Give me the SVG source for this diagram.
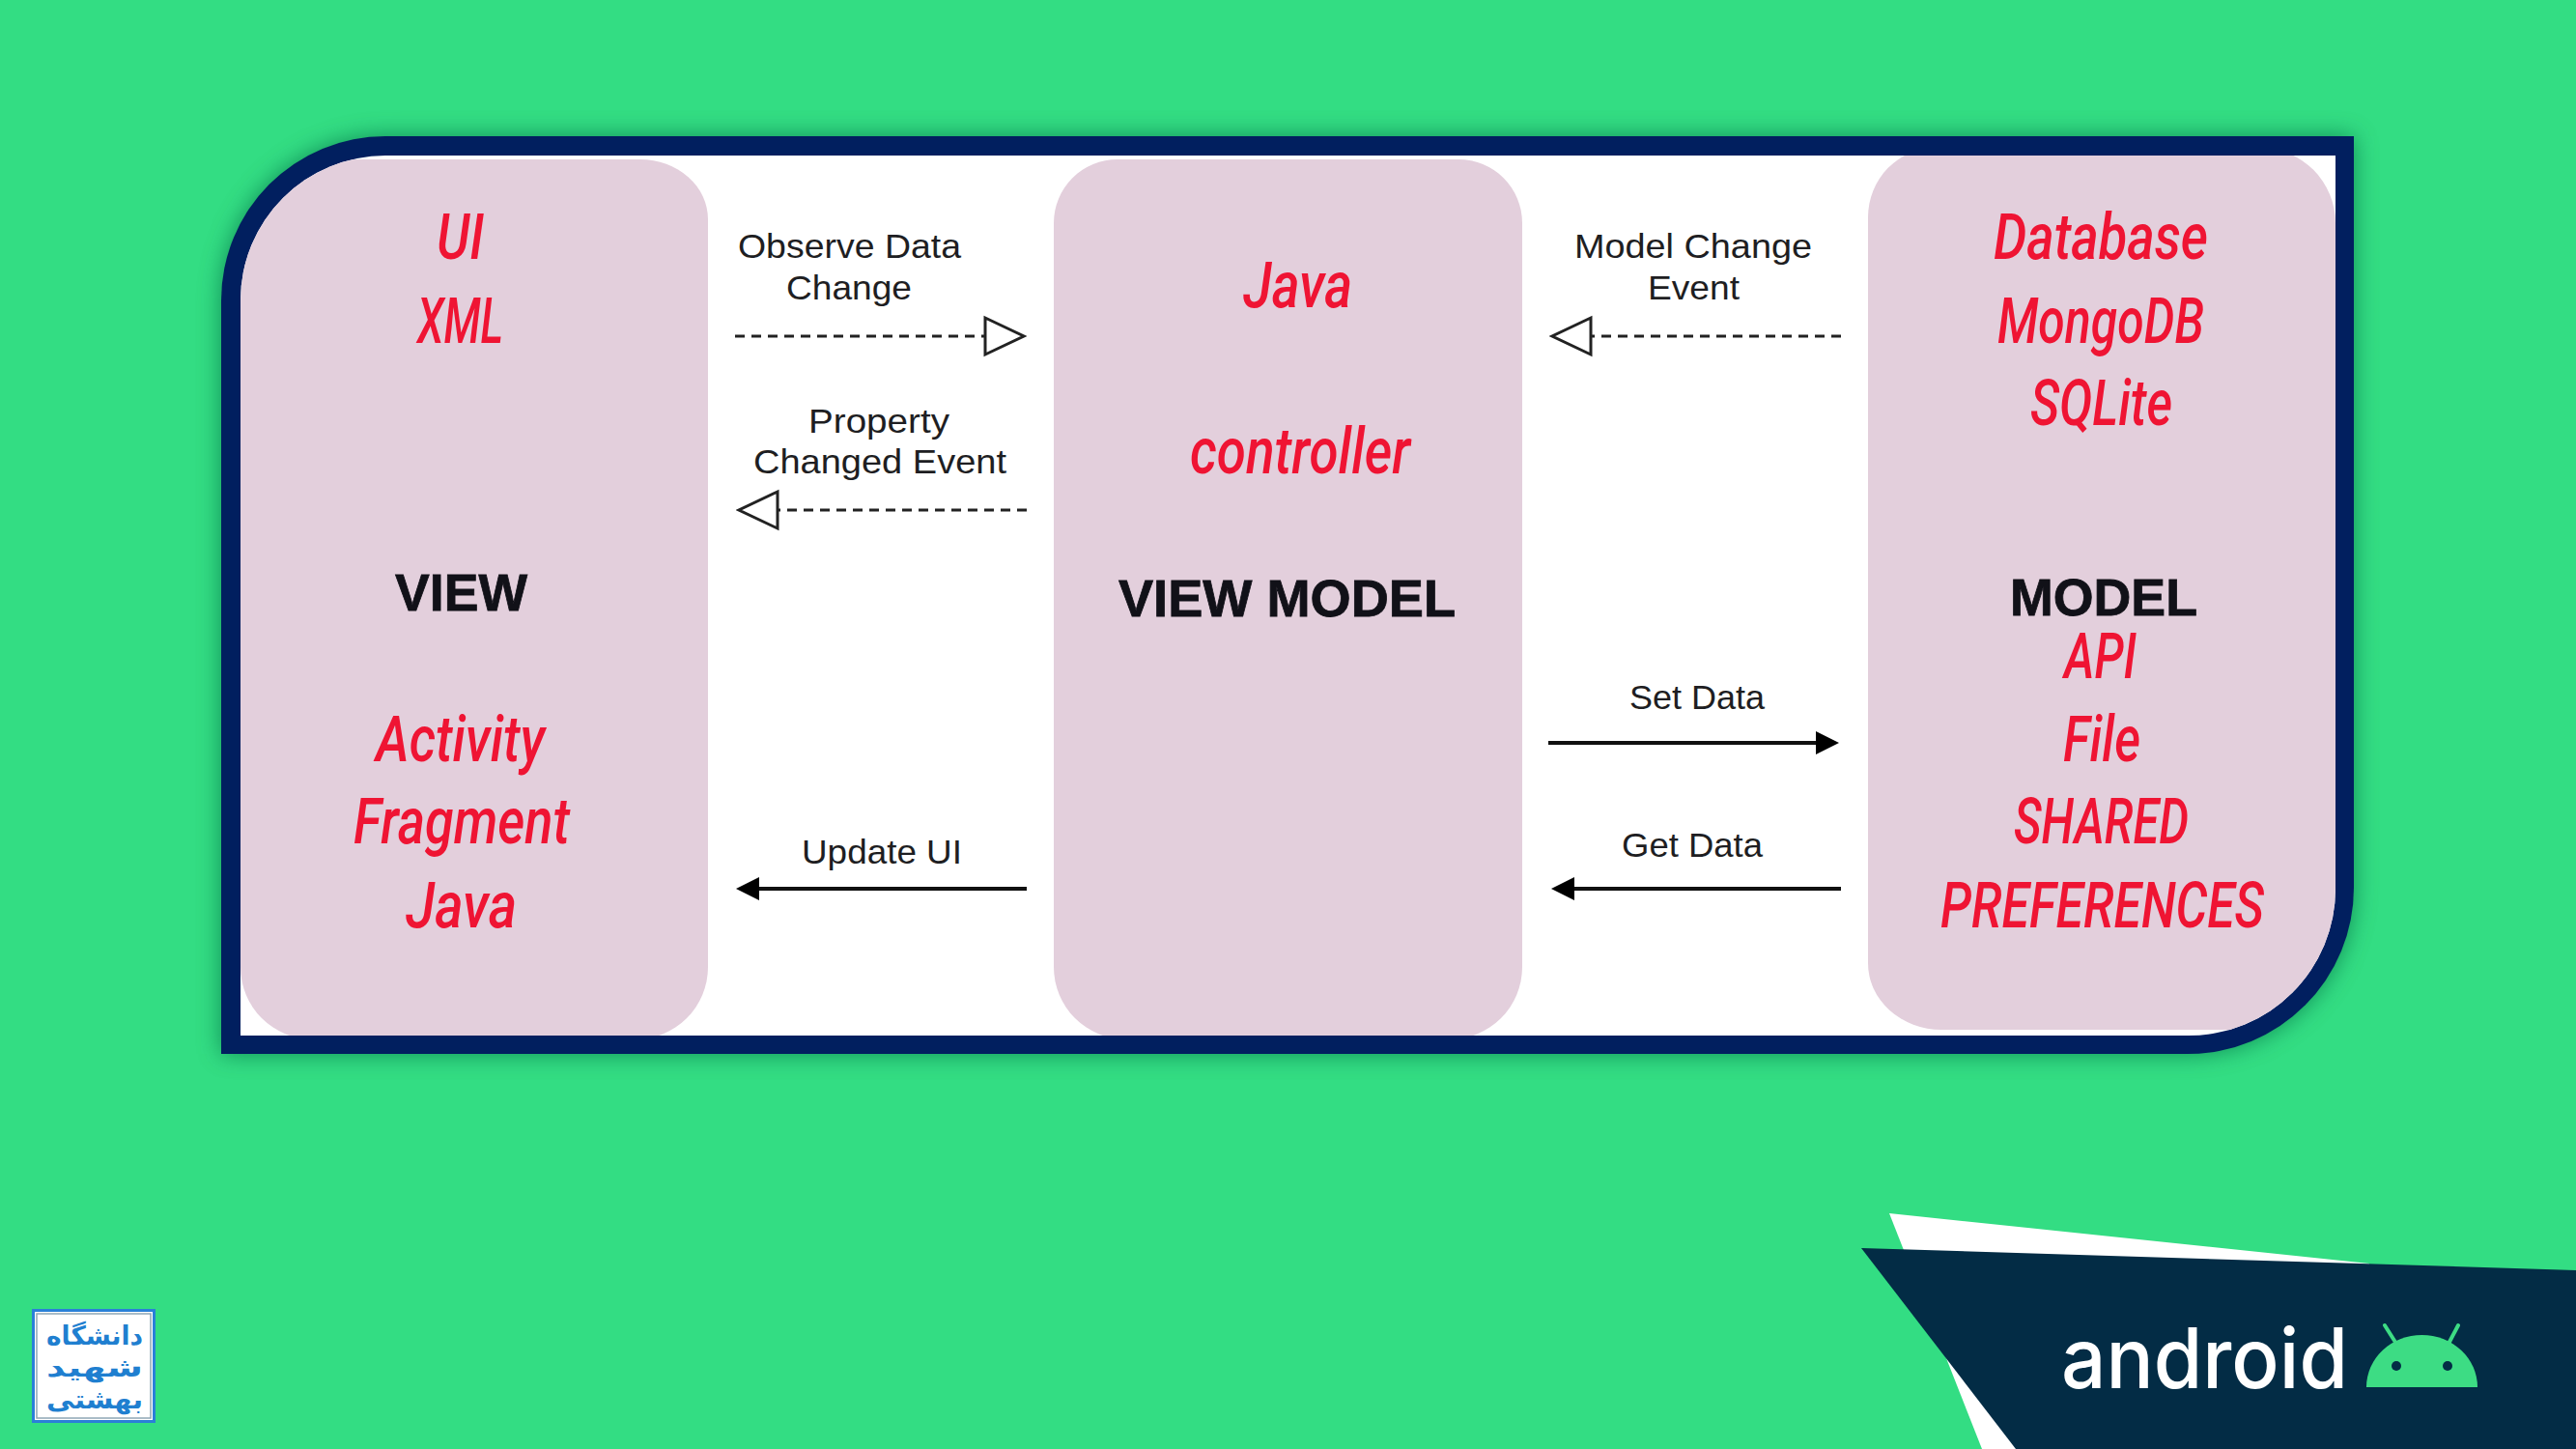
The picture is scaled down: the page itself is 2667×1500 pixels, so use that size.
<svg xmlns="http://www.w3.org/2000/svg" width="2667" height="1500" viewBox="0 0 2667 1500">
<style>
.pill{fill:#e3cfdc}
.red{font-family:"Roboto","Liberation Sans",sans-serif;font-style:italic;font-weight:500;font-size:67px;fill:#ef1433}
.head{font-family:"Liberation Sans",sans-serif;font-weight:700;font-size:54px;fill:#111118;stroke:#111118;stroke-width:.8}
.lab{font-family:"Liberation Sans",sans-serif;font-size:35px;fill:#1e1e22}
.dash{fill:none;stroke:#222;stroke-width:3;stroke-dasharray:10 7}
.solid{fill:none;stroke:#111;stroke-width:4}
</style>
<defs>
<filter id="blur" x="-10%" y="-15%" width="120%" height="130%"><feGaussianBlur stdDeviation="12"/></filter>
<clipPath id="inner"><path d="M399,161H2418V920A152,152 0 0 1 2266,1072H249V311A150,150 0 0 1 399,161Z"/></clipPath>
<marker id="open" markerUnits="userSpaceOnUse" viewBox="-3 -3 46 44" markerWidth="46" markerHeight="44" refX="0" refY="19" orient="auto"><path d="M0,0L40,19L0,38Z" fill="#fff" stroke="#222" stroke-width="3"/></marker>
<marker id="fill" markerUnits="userSpaceOnUse" viewBox="0 0 24 24" markerWidth="24" markerHeight="24" refX="0" refY="12" orient="auto"><path d="M0,0L24,12L0,24Z" fill="#000"/></marker>
</defs>
<rect width="2667" height="1500" fill="#33dd83"/>
<g id="background-shapes">
<path d="M1956,1256L2453,1308L2400,1500H2052Z" fill="#fff"/>
<path d="M1927,1292L2667,1315V1500H2087Z" fill="#032c45"/>
</g>
<g id="frame">
<path d="M399,141H2437V919A172,172 0 0 1 2265,1091H229V311A170,170 0 0 1 399,141Z" fill="#0f6b45" opacity=".7" filter="url(#blur)"/>
<path d="M399,141H2437V919A172,172 0 0 1 2265,1091H229V311A170,170 0 0 1 399,141Z" fill="#011f5f"/>
<path d="M399,161H2418V920A152,152 0 0 1 2266,1072H249V311A150,150 0 0 1 399,161Z" fill="#fff"/>
</g>
<g id="view" clip-path="url(#inner)">
<path class="pill" d="M249,165H663A70,62 0 0 1 733,227V1001A75,75 0 0 1 658,1076H324A75,75 0 0 1 249,1001Z"/>
<text class="red" x="452" y="268" textLength="49" lengthAdjust="spacingAndGlyphs">UI</text>
<text class="red" x="432" y="355" textLength="89" lengthAdjust="spacingAndGlyphs">XML</text>
<text class="head" x="409" y="632" textLength="137" lengthAdjust="spacingAndGlyphs">VIEW</text>
<text class="red" x="389" y="788" textLength="175" lengthAdjust="spacingAndGlyphs">Activity</text>
<text class="red" x="366" y="873" textLength="224" lengthAdjust="spacingAndGlyphs">Fragment</text>
<text class="red" x="420" y="960" textLength="115" lengthAdjust="spacingAndGlyphs">Java</text>
</g>
<g id="view-model" clip-path="url(#inner)">
<path class="pill" d="M1091,231A66,66 0 0 1 1157,165H1510A66,66 0 0 1 1576,231V1001A75,75 0 0 1 1501,1076H1166A75,75 0 0 1 1091,1001Z"/>
<text class="red" x="1287" y="318" textLength="113" lengthAdjust="spacingAndGlyphs">Java</text>
<text class="red" x="1232" y="490" textLength="228" lengthAdjust="spacingAndGlyphs">controller</text>
<text class="head" x="1158" y="638" textLength="349" lengthAdjust="spacingAndGlyphs">VIEW MODEL</text>
</g>
<g id="model" clip-path="url(#inner)">
<path class="pill" d="M1934,225A70,72 0 0 1 2004,153H2340A78,78 0 0 1 2418,231V1066H2010A76,69 0 0 1 1934,997Z"/>
<text class="red" x="2064" y="268" textLength="222" lengthAdjust="spacingAndGlyphs">Database</text>
<text class="red" x="2068" y="355" textLength="214" lengthAdjust="spacingAndGlyphs">MongoDB</text>
<text class="red" x="2102" y="440" textLength="147" lengthAdjust="spacingAndGlyphs">SQLite</text>
<text class="head" x="2081" y="637" textLength="194" lengthAdjust="spacingAndGlyphs">MODEL</text>
<text class="red" x="2137" y="702" textLength="75" lengthAdjust="spacingAndGlyphs">API</text>
<text class="red" x="2136" y="788" textLength="80" lengthAdjust="spacingAndGlyphs">File</text>
<text class="red" x="2085" y="873" textLength="181" lengthAdjust="spacingAndGlyphs">SHARED</text>
<text class="red" x="2009" y="960" textLength="335" lengthAdjust="spacingAndGlyphs">PREFERENCES</text>
</g>
<g id="connectors">
<path class="dash" d="M761,348H1020" marker-end="url(#open)"/>
<path class="dash" d="M1063,528H805" marker-end="url(#open)"/>
<path class="dash" d="M1906,348H1647" marker-end="url(#open)"/>
<path class="solid" d="M1603,769H1880" marker-end="url(#fill)"/>
<path class="solid" d="M1906,920H1630" marker-end="url(#fill)"/>
<path class="solid" d="M1063,920H786" marker-end="url(#fill)"/>
<text class="lab" x="764" y="267" textLength="231" lengthAdjust="spacingAndGlyphs">Observe Data</text>
<text class="lab" x="814" y="310" textLength="130" lengthAdjust="spacingAndGlyphs">Change</text>
<text class="lab" x="837" y="448" textLength="146" lengthAdjust="spacingAndGlyphs">Property</text>
<text class="lab" x="780" y="490" textLength="262" lengthAdjust="spacingAndGlyphs">Changed Event</text>
<text class="lab" x="1630" y="267" textLength="246" lengthAdjust="spacingAndGlyphs">Model Change</text>
<text class="lab" x="1706" y="310" textLength="95" lengthAdjust="spacingAndGlyphs">Event</text>
<text class="lab" x="1687" y="734" textLength="140" lengthAdjust="spacingAndGlyphs">Set Data</text>
<text class="lab" x="1679" y="887" textLength="146" lengthAdjust="spacingAndGlyphs">Get Data</text>
<text class="lab" x="830" y="894" textLength="166" lengthAdjust="spacingAndGlyphs">Update UI</text>
</g>
<g id="android-logo">
<text x="2134" y="1437" font-family="Inter,'Open Sans',sans-serif" font-size="86" font-weight="500" fill="#fff" textLength="297" lengthAdjust="spacingAndGlyphs">android</text>
<path d="M2450,1436A57.5,54 0 0 1 2565,1436Z" fill="#3ddc84"/>
<path d="M2469,1372L2481,1391M2545,1372L2535,1391" stroke="#3ddc84" stroke-width="4" stroke-linecap="round" fill="none"/>
<circle cx="2481" cy="1414" r="5" fill="#032c45"/>
<circle cx="2534" cy="1414" r="5" fill="#032c45"/>
</g>
<g id="university-logo">
<rect x="34.500" y="1356.500" width="125" height="115" fill="#fff" stroke="#2a80d8" stroke-width="3"/>
<rect x="38" y="1360" width="118" height="108" fill="none" stroke="#8fa7b5" stroke-width="1.500"/>
<g font-family="'DejaVu Sans',sans-serif" font-weight="700" fill="#1f7fd0" direction="rtl">
<text x="148" y="1392" font-size="27" textLength="100" lengthAdjust="spacingAndGlyphs">دانشگاه</text>
<text x="148" y="1425" font-size="27" textLength="100" lengthAdjust="spacingAndGlyphs">شهید</text>
<text x="148" y="1458" font-size="27" textLength="100" lengthAdjust="spacingAndGlyphs">بهشتی</text>
</g>
</g>
</svg>
